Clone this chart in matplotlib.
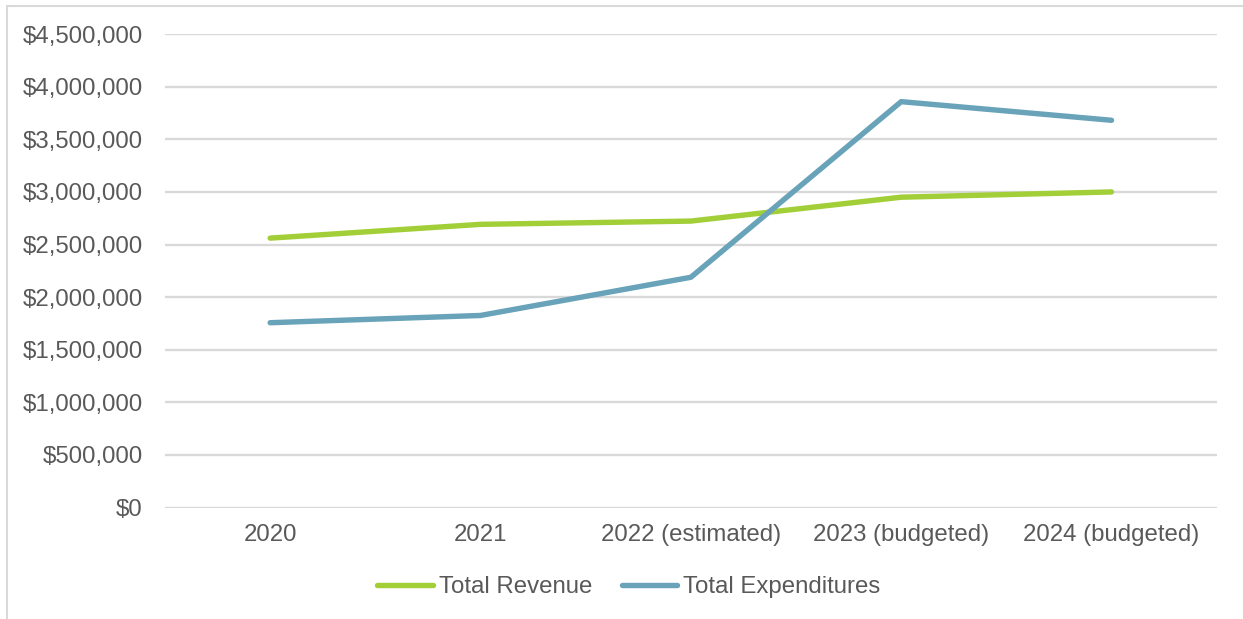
import matplotlib
matplotlib.use("Agg")
import matplotlib.pyplot as plt
from matplotlib.ticker import FuncFormatter, MultipleLocator
from matplotlib.patches import Rectangle

# Budget summary data
categories = ["2020", "2021", "2022 (estimated)", "2023 (budgeted)", "2024 (budgeted)"]
total_revenue = [2561000, 2692000, 2723000, 2950000, 3000000]
total_expenditures = [1757000, 1826000, 2189000, 3858000, 3681000]

W, H = 1243, 619
plt.rcParams["font.family"] = ["Liberation Sans", "DejaVu Sans"]
text_color = "#595959"
grid_color = "#d9d9d9"
fs = 17.3

fig = plt.figure(figsize=(W / 100, H / 100), dpi=100)
ax = fig.add_axes([165 / W, 1 - 507.6 / H, (1216.7 - 165) / W, (507.6 - 34.1) / H])

x = range(len(categories))
ax.plot(x, total_revenue, color="#a2cf38", lw=3.9, solid_capstyle="round",
        solid_joinstyle="round", label="Total Revenue", zorder=3)
ax.plot(x, total_expenditures, color="#68a3ba", lw=3.9, solid_capstyle="round",
        solid_joinstyle="round", label="Total Expenditures", zorder=3)

ax.set_xlim(-0.5, len(categories) - 0.5)
ax.set_ylim(0, 4500000)
ax.yaxis.set_major_locator(MultipleLocator(500000))
ax.yaxis.set_major_formatter(FuncFormatter(lambda v, p: f"${v:,.0f}"))
ax.set_xticks(list(x))
ax.set_xticklabels(categories)

ax.grid(axis="y", color=grid_color, lw=1.7)
ax.set_axisbelow(True)
for s in ax.spines.values():
    s.set_visible(False)
ax.tick_params(axis="both", length=0, labelsize=fs, colors=text_color)
ax.tick_params(axis="y", pad=16)
ax.tick_params(axis="x", pad=12)

leg = fig.legend(loc="center", bbox_to_anchor=(629 / W, 1 - 587 / H), ncol=2,
                 frameon=False, fontsize=fs, handlelength=2.3,
                 handletextpad=0.25, columnspacing=1.25)
for t in leg.get_texts():
    t.set_color(text_color)

# Outer chart frame
fig.patches.append(Rectangle((6.5 / W, -0.1), 1.2, 1.1 - 6.5 / H, transform=fig.transFigure,
                             fill=False, edgecolor="#d9d9d9", lw=1.5))

fig.savefig("out.png", dpi=100)
